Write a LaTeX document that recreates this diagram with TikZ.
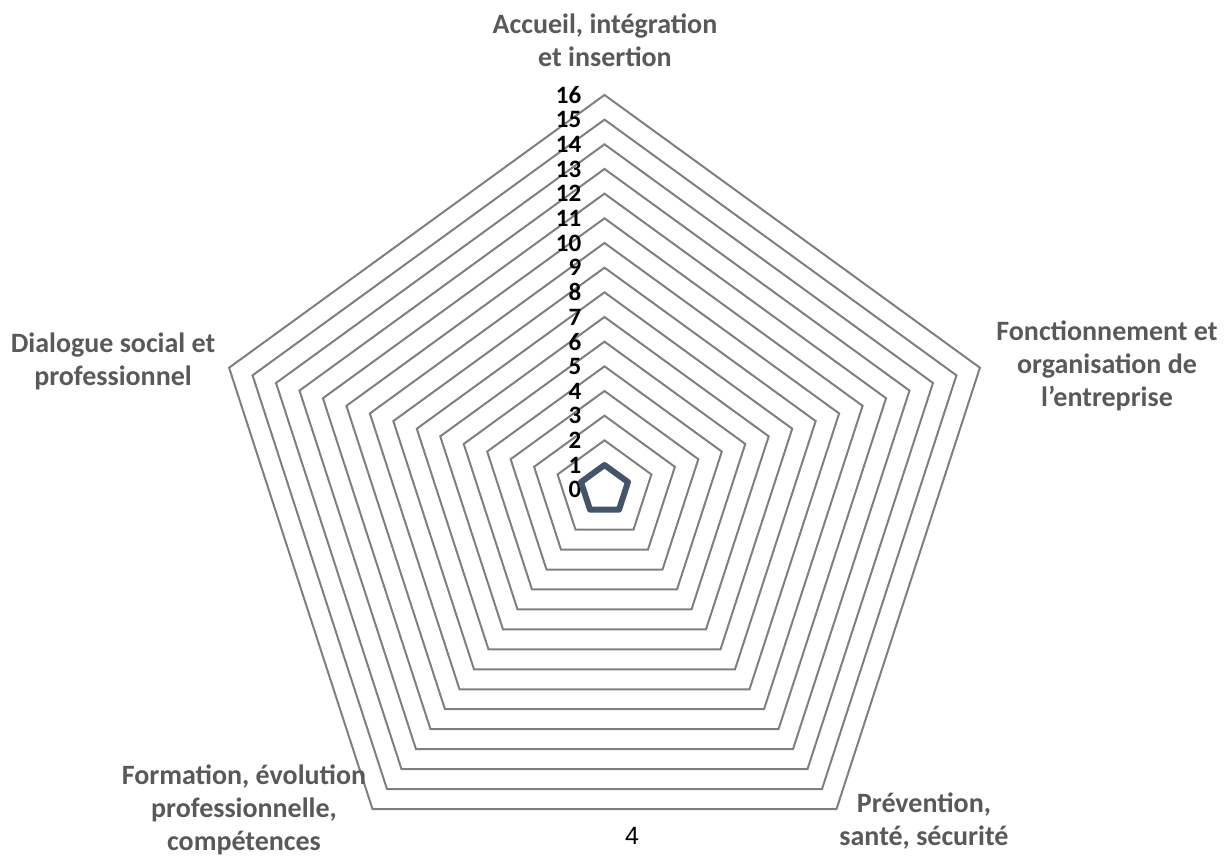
\documentclass[tikz,border=0pt]{standalone}
\usepackage{fontspec}
\setmainfont{Carlito}
\newfontfamily\pagefont{Liberation Sans}
\usetikzlibrary{calc}
\definecolor{gridgray}{HTML}{7F7F7F}
\definecolor{labelgray}{HTML}{595959}
\definecolor{seriesblue}{HTML}{44546A}

\begin{document}
\begin{tikzpicture}[
  x=1pt, y=1pt,
  ring/.style={draw=gridgray, line width=2pt, line join=miter},
  series/.style={draw=seriesblue, line width=6pt, line join=round},
  axlbl/.style={font=\fontsize{28}{33}\selectfont\bfseries, text=labelgray, align=center, inner sep=0pt},
  tick/.style={font=\fontsize{25}{25}\selectfont\bfseries, anchor=east, inner sep=0pt}
]
\useasboundingbox (0,0) rectangle (1227,866);
\coordinate (c) at (604.5,376.3);
\def\st{24.67}

% grid rings 1..16
\foreach \k in {1,...,16}{
  \draw[ring] ($(c)+(90:\k*\st)$) -- ($(c)+(18:\k*\st)$) -- ($(c)+(-54:\k*\st)$)
    -- ($(c)+(-126:\k*\st)$) -- ($(c)+(162:\k*\st)$) -- cycle;
}
% scale numbers
\foreach \k in {0,...,16}{
  \node[tick] (n\k) at ($(c)+(-23,\k*\st)$) {\k};
}
% data series
\draw[series] ($(c)+(90:\st)$) -- ($(c)+(18:\st)$) -- ($(c)+(-54:\st)$)
  -- ($(c)+(-126:\st)$) -- ($(c)+(162:\st)$) -- cycle;

\node[axlbl] (accueil) at (605,826) {Accueil, intégration\\et insertion};
\node[axlbl] (fonct) at (1107,500) {Fonctionnement et\\organisation de\\l’entreprise};
\node[axlbl] (prev) at (924,45) {Prévention,\\santé, sécurité};
\node[axlbl] (form) at (244,56) {Formation, évolution\\professionnelle,\\compétences};
\node[axlbl] (dial) at (113,505) {Dialogue social et\\professionnel};
\node[font=\pagefont\fontsize{25}{25}\selectfont, inner sep=0pt] (page) at (632,30) {4};
\end{tikzpicture}
\end{document}
